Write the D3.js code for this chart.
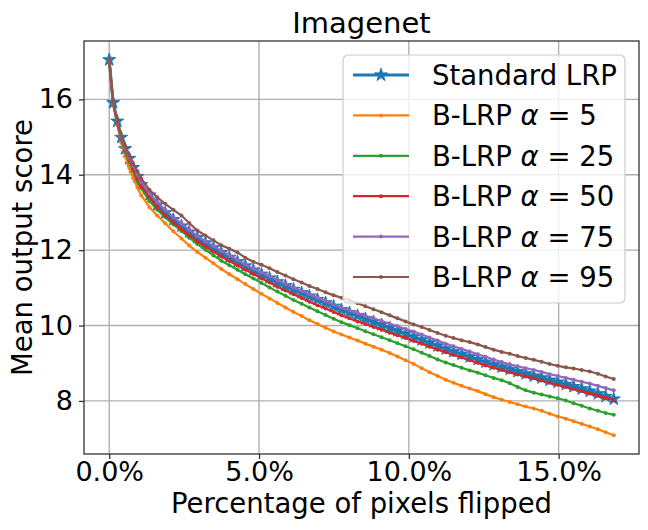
<!DOCTYPE html>
<html>
<head>
<meta charset="utf-8">
<script src="https://cdn.jsdelivr.net/npm/d3@7"></script>
<style>
  body { margin: 0; background: #fff; }
  svg text { font-family: "DejaVu Sans", sans-serif; fill: #000; }
</style>
</head>
<body>
<div id="chart"></div>
<script>
// percentage of pixels flipped at each recorded step
let pct = [0, 0.13, 0.27, 0.40, 0.53, 0.67, 0.80, 0.94, 1.07,
  1.34, 1.60, 1.87, 2.14, 2.41, 2.67, 2.94, 3.21, 3.48, 3.74,
  4.01, 4.28, 4.54, 4.81, 5.08, 5.35, 5.61, 5.88, 6.15, 6.42,
  6.68, 6.95, 7.22, 7.49, 7.75, 8.02, 8.29, 8.55, 8.82, 9.09,
  9.36, 9.62, 9.89, 10.16, 10.43, 10.69, 10.96, 11.23, 11.49, 11.76,
  12.03, 12.30, 12.56, 12.83, 13.10, 13.37, 13.63, 13.90, 14.17, 14.43,
  14.70, 14.97, 15.24, 15.50, 15.77, 16.04, 16.31, 16.57, 16.84]

let standardLRP = [17.05, 15.91, 15.42, 14.99, 14.69, 14.43, 14.19, 13.95, 13.74,
  13.46, 13.20, 12.99, 12.81, 12.64, 12.48, 12.33, 12.19, 12.06, 11.93,
  11.81, 11.69, 11.58, 11.47, 11.36, 11.26, 11.16, 11.06, 10.96, 10.87,
  10.78, 10.69, 10.60, 10.51, 10.42, 10.34, 10.26, 10.18, 10.10, 10.02,
  9.94, 9.86, 9.78, 9.70, 9.62, 9.54, 9.46, 9.38, 9.31, 9.24,
  9.17, 9.10, 9.03, 8.96, 8.90, 8.84, 8.78, 8.72, 8.66, 8.61,
  8.55, 8.50, 8.44, 8.38, 8.32, 8.26, 8.19, 8.12, 8.05]

let blrp5 = [17.05, 15.86, 15.31, 14.85, 14.49, 14.18, 13.91, 13.67, 13.45,
  13.14, 12.92, 12.71, 12.50, 12.31, 12.12, 11.95, 11.80, 11.65, 11.50,
  11.36, 11.23, 11.10, 10.97, 10.84, 10.72, 10.60, 10.48, 10.36, 10.25,
  10.14, 10.04, 9.94, 9.84, 9.76, 9.68, 9.60, 9.52, 9.44, 9.36,
  9.27, 9.18, 9.08, 8.98, 8.87, 8.76, 8.66, 8.56, 8.48, 8.40,
  8.33, 8.26, 8.18, 8.10, 8.03, 7.97, 7.91, 7.85, 7.80, 7.74,
  7.66, 7.59, 7.53, 7.46, 7.39, 7.32, 7.25, 7.17, 7.09]

let blrp25 = [17.05, 15.88, 15.37, 14.93, 14.61, 14.34, 14.09, 13.85, 13.64,
  13.30, 13.07, 12.87, 12.68, 12.51, 12.33, 12.16, 12.01, 11.86, 11.72,
  11.60, 11.48, 11.36, 11.25, 11.13, 11.01, 10.90, 10.79, 10.68, 10.58,
  10.48, 10.38, 10.28, 10.18, 10.09, 10.01, 9.93, 9.85, 9.77, 9.69,
  9.61, 9.53, 9.45, 9.37, 9.28, 9.19, 9.10, 9.02, 8.95, 8.88,
  8.81, 8.75, 8.68, 8.61, 8.55, 8.47, 8.37, 8.28, 8.22, 8.17,
  8.12, 8.07, 8.01, 7.94, 7.87, 7.80, 7.74, 7.68, 7.63]

let blrp50 = [17.05, 15.90, 15.40, 14.97, 14.66, 14.40, 14.15, 13.91, 13.70,
  13.41, 13.14, 12.92, 12.73, 12.55, 12.39, 12.23, 12.09, 11.96, 11.83,
  11.71, 11.59, 11.48, 11.37, 11.25, 11.14, 11.03, 10.93, 10.83, 10.73,
  10.63, 10.54, 10.45, 10.36, 10.27, 10.19, 10.11, 10.04, 9.96, 9.89,
  9.81, 9.74, 9.67, 9.59, 9.52, 9.44, 9.36, 9.29, 9.22, 9.15,
  9.08, 9.01, 8.94, 8.88, 8.82, 8.76, 8.70, 8.65, 8.60, 8.54,
  8.48, 8.43, 8.37, 8.32, 8.26, 8.20, 8.14, 8.08, 8.02]

let blrp75 = [17.05, 15.91, 15.43, 15.01, 14.71, 14.46, 14.23, 14.00, 13.80,
  13.51, 13.27, 13.07, 12.88, 12.71, 12.54, 12.38, 12.24, 12.11, 11.98,
  11.86, 11.74, 11.62, 11.51, 11.41, 11.31, 11.21, 11.11, 11.01, 10.92,
  10.83, 10.74, 10.65, 10.56, 10.48, 10.40, 10.33, 10.26, 10.19, 10.12,
  10.05, 9.98, 9.91, 9.84, 9.76, 9.68, 9.60, 9.52, 9.45, 9.38,
  9.31, 9.24, 9.17, 9.10, 9.03, 8.97, 8.92, 8.87, 8.82, 8.77,
  8.71, 8.66, 8.61, 8.56, 8.51, 8.46, 8.40, 8.34, 8.28]

let blrp95 = [17.05, 15.93, 15.45, 15.04, 14.76, 14.52, 14.30, 14.09, 13.90,
  13.60, 13.40, 13.23, 13.07, 12.92, 12.72, 12.52, 12.39, 12.26, 12.13,
  12.04, 11.94, 11.80, 11.69, 11.61, 11.52, 11.42, 11.33, 11.23, 11.14,
  11.05, 10.97, 10.88, 10.80, 10.74, 10.67, 10.59, 10.51, 10.43, 10.35,
  10.27, 10.19, 10.11, 10.03, 9.96, 9.88, 9.80, 9.73, 9.67, 9.61,
  9.56, 9.50, 9.43, 9.36, 9.30, 9.25, 9.19, 9.14, 9.09, 9.04,
  8.98, 8.93, 8.89, 8.86, 8.82, 8.78, 8.72, 8.65, 8.58]

let alphas = [5, 25, 50, 75, 95]
let xTicks = [0, 5, 10, 15]
let yTicks = [8, 10, 12, 14, 16]

let colours = ['#1f77b4', '#ff7f0e', '#2ca02c', '#d62728', '#9467bd', '#8c564b']

function init(){
	let series = [{'name':'Standard LRP', 'values':standardLRP, 'star':true}]
	let blrp = [blrp5, blrp25, blrp50, blrp75, blrp95]
	alphas.forEach(function(a,i){
		series.push({'name':'B-LRP', 'alpha':a, 'values':blrp[i], 'star':false})
	});
	series.forEach(function(s,i){ s.colour = colours[i] });
	drawChart(series)
}

function drawChart(series){
	let W = 648, H = 530
	let margin = {top: 41, right: 9, bottom: 76, left: 84}
	let width = W - margin.left - margin.right,
	    height = H - margin.top - margin.bottom

	let svg = d3.select('#chart')
	  .append('svg')
	    .attr('width', W)
	    .attr('height', H)

	let g = svg.append('g')
	    .attr('transform', 'translate(' + margin.left + ',' + margin.top + ')')

	// matplotlib style 5% padding around the data
	let xExt = d3.extent(pct)
	let xPad = (xExt[1] - xExt[0]) * 0.05
	let allY = [].concat(...series.map(function(s){ return s.values }))
	let yExt = d3.extent(allY)
	let yPad = (yExt[1] - yExt[0]) * 0.05

	let x = d3.scaleLinear()
	  .domain([xExt[0] - xPad, xExt[1] + xPad])
	  .range([0, width])
	let y = d3.scaleLinear()
	  .domain([yExt[0] - yPad, yExt[1] + yPad])
	  .range([height, 0])

	// grid
	g.append('g').selectAll('line')
	  .data(xTicks).enter().append('line')
	  .attr('x1', function(d){ return x(d) }).attr('x2', function(d){ return x(d) })
	  .attr('y1', 0).attr('y2', height)
	  .attr('stroke', '#b0b0b0').attr('stroke-width', 1.4)
	g.append('g').selectAll('line')
	  .data(yTicks).enter().append('line')
	  .attr('y1', function(d){ return y(d) }).attr('y2', function(d){ return y(d) })
	  .attr('x1', 0).attr('x2', width)
	  .attr('stroke', '#b0b0b0').attr('stroke-width', 1.4)

	// axes
	let xAxis = g.append('g')
	  .attr('transform', 'translate(0,' + height + ')')
	  .call(d3.axisBottom(x).tickValues(xTicks).tickSize(5).tickPadding(3)
	    .tickFormat(function(d){ return d.toFixed(1) + '%' }))
	let yAxis = g.append('g')
	  .call(d3.axisLeft(y).tickValues(yTicks).tickSize(5).tickPadding(6)
	    .tickFormat(d3.format('d')))
	;[xAxis, yAxis].forEach(function(ax){
		ax.select('.domain').remove()
		ax.attr('font-size', 27).attr('font-family', 'DejaVu Sans')
		ax.selectAll('.tick line').attr('stroke', '#333').attr('stroke-width', 1.3)
		ax.selectAll('.tick text').attr('fill', '#000')
	});

	svg.append('clipPath').attr('id', 'plotclip')
	  .append('rect').attr('width', width).attr('height', height)

	let plot = g.append('g').attr('clip-path', 'url(#plotclip)')

	let line = d3.line()
	  .x(function(d,i){ return x(pct[i]) })
	  .y(function(d){ return y(d) })

	let star = d3.symbol().type(d3.symbolStar).size(52)

	series.forEach(function(s){
		plot.append('path')
		  .datum(s.values)
		  .attr('fill', 'none')
		  .attr('stroke', s.colour)
		  .attr('stroke-width', s.star ? 3 : 2.2)
		  .attr('stroke-linejoin', 'round')
		  .attr('d', line)
		if(s.star){
			plot.selectAll('.star')
			  .data(s.values).enter().append('path')
			  .attr('class', 'star')
			  .attr('d', star)
			  .attr('transform', function(d,i){ return 'translate(' + x(pct[i]) + ',' + y(d) + ')' })
			  .attr('fill', s.colour)
			  .attr('stroke', s.colour)
			  .attr('stroke-width', 1)
		} else {
			plot.append('g').selectAll('circle')
			  .data(s.values).enter().append('circle')
			  .attr('cx', function(d,i){ return x(pct[i]) })
			  .attr('cy', function(d){ return y(d) })
			  .attr('r', 2)
			  .attr('fill', s.colour)
		}
	});

	// frame
	g.append('rect')
	  .attr('width', width).attr('height', height)
	  .attr('fill', 'none').attr('stroke', '#333').attr('stroke-width', 1.3)

	// labels
	svg.append('text')
	  .attr('x', margin.left + width / 2).attr('y', 33)
	  .attr('text-anchor', 'middle').attr('font-size', 29)
	  .text('Imagenet')
	svg.append('text')
	  .attr('x', margin.left + width / 2).attr('y', 513)
	  .attr('text-anchor', 'middle').attr('font-size', 27.5)
	  .text('Percentage of pixels flipped')
	svg.append('text')
	  .attr('transform', 'translate(32,' + (margin.top + height / 2) + ') rotate(-90)')
	  .attr('text-anchor', 'middle').attr('font-size', 27.5)
	  .text('Mean output score')

	createLegend(svg, series, star)
}

function createLegend(svg, series, star){
	let lg = svg.append('g').attr('transform', 'translate(343,55)')
	lg.append('rect')
	  .attr('width', 282).attr('height', 248)
	  .attr('rx', 5).attr('ry', 5)
	  .attr('fill', '#fff').attr('fill-opacity', 0.8)
	  .attr('stroke', '#cccccc').attr('stroke-width', 1.2)

	series.forEach(function(s,i){
		let cy = 20 + i * 40.4
		lg.append('line')
		  .attr('x1', 10).attr('x2', 66)
		  .attr('y1', cy).attr('y2', cy)
		  .attr('stroke', s.colour).attr('stroke-width', s.star ? 3 : 2.2)
		if(s.star){
			lg.append('path').attr('d', star)
			  .attr('transform', 'translate(38,' + cy + ')')
			  .attr('fill', s.colour).attr('stroke', s.colour)
		} else {
			lg.append('circle').attr('cx', 38).attr('cy', cy).attr('r', 2).attr('fill', s.colour)
		}
		let t = lg.append('text')
		  .attr('x', 89).attr('y', cy).attr('dy', '0.36em')
		  .attr('font-size', 27.5)
		if(s.star){
			t.text(s.name)
		} else {
			t.append('tspan').text(s.name + ' ')
			t.append('tspan').attr('font-style', 'italic').text('\u03b1')
			t.append('tspan').text(' = ' + s.alpha)
		}
	});
}

init()
</script>
</body>
</html>
